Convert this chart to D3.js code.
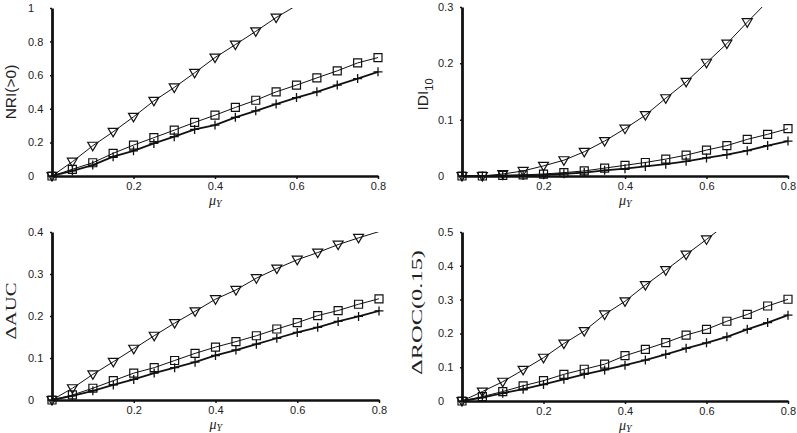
<!DOCTYPE html>
<html>
<head>
<meta charset="utf-8">
<script src="https://cdn.jsdelivr.net/npm/d3@7"></script>
<style>
  html, body { margin: 0; padding: 0; background: #fff; }
  svg { display: block; }
</style>
</head>
<body>
<svg id="chart" width="797" height="433"></svg>
<script>
// ---- Data ----
const muY = [0, 0.05, 0.10, 0.15, 0.20, 0.25, 0.30, 0.35, 0.40, 0.45, 0.50, 0.55, 0.60, 0.65, 0.70, 0.75, 0.80];

// NRI(>0)
const nriTri  = [0, 0.085, 0.180, 0.263, 0.352, 0.447, 0.527, 0.614, 0.705, 0.782, 0.861, 0.943, 1.015];
const nriSq   = [0, 0.040, 0.079, 0.135, 0.184, 0.228, 0.273, 0.319, 0.362, 0.408, 0.451, 0.501, 0.541, 0.584, 0.626, 0.673, 0.705];
const nriPlus = [0, 0.030, 0.065, 0.115, 0.150, 0.194, 0.234, 0.277, 0.303, 0.349, 0.388, 0.428, 0.467, 0.501, 0.541, 0.580, 0.620];

// IDI_10
const idiTri  = [0, 0, 0.0035, 0.009, 0.018, 0.028, 0.043, 0.062, 0.084, 0.108, 0.138, 0.167, 0.201, 0.235, 0.273, 0.310];
const idiSq   = [0, 0, 0.001, 0.002, 0.0035, 0.006, 0.009, 0.014, 0.019, 0.024, 0.030, 0.037, 0.046, 0.054, 0.065, 0.074, 0.084];
const idiPlus = [0, 0, 0.0005, 0.001, 0.002, 0.004, 0.006, 0.010, 0.013, 0.017, 0.021, 0.026, 0.032, 0.038, 0.045, 0.054, 0.062];

// Delta AUC
const aucTri  = [0, 0.028, 0.061, 0.091, 0.122, 0.153, 0.183, 0.211, 0.240, 0.262, 0.290, 0.313, 0.334, 0.351, 0.370, 0.386, 0.401];
const aucSq   = [0, 0.012, 0.028, 0.046, 0.064, 0.077, 0.094, 0.111, 0.126, 0.139, 0.153, 0.169, 0.184, 0.201, 0.213, 0.228, 0.241];
const aucPlus = [0, 0.010, 0.022, 0.036, 0.049, 0.064, 0.077, 0.090, 0.106, 0.119, 0.133, 0.147, 0.161, 0.173, 0.187, 0.199, 0.212];

// Delta ROC(0.15)
const rocTri  = [0, 0.028, 0.057, 0.092, 0.128, 0.170, 0.207, 0.256, 0.295, 0.343, 0.387, 0.433, 0.478, 0.525];
const rocSq   = [0, 0.013, 0.028, 0.045, 0.060, 0.079, 0.094, 0.109, 0.134, 0.153, 0.173, 0.195, 0.212, 0.236, 0.256, 0.281, 0.301];
const rocPlus = [0, 0.010, 0.023, 0.035, 0.049, 0.064, 0.079, 0.092, 0.106, 0.121, 0.138, 0.156, 0.172, 0.190, 0.212, 0.232, 0.254];

// Tick labels
const xTicks = [0.2, 0.4, 0.6, 0.8];
const nriTicks = [0, 0.2, 0.4, 0.6, 0.8, 1];
const idiTicks = [0, 0.1, 0.2, 0.3];
const aucTicks = [0, 0.1, 0.2, 0.3, 0.4];
const rocTicks = [0, 0.1, 0.2, 0.3, 0.4, 0.5];

// ---- Layout ----
const panels = [
  { id: "p1", x0: 52,  x1: 378, y0: 176, y1: 8,   yMax: 1,   ticks: nriTicks, tri: nriTri, sq: nriSq, plus: nriPlus, label: "nri" },
  { id: "p2", x0: 462, x1: 788, y0: 176, y1: 7,   yMax: 0.3, ticks: idiTicks, tri: idiTri, sq: idiSq, plus: idiPlus, label: "idi" },
  { id: "p3", x0: 52,  x1: 379, y0: 400, y1: 232, yMax: 0.4, ticks: aucTicks, tri: aucTri, sq: aucSq, plus: aucPlus, label: "auc" },
  { id: "p4", x0: 462, x1: 788, y0: 401, y1: 232, yMax: 0.5, ticks: rocTicks, tri: rocTri, sq: rocSq, plus: rocPlus, label: "roc" }
];

const ink = "#111";
const svg = d3.select("#chart");
const defs = svg.append("defs");

const triPath = "M-5,-3.5L5,-3.5L0,5Z";
const sqPath = "M-4,-4H4V4H-4Z";
const plusPath = "M-4.5,0H4.5M0,-4.5V4.5";

panels.forEach(p => {
  const x = d3.scaleLinear().domain([0, 0.8]).range([p.x0, p.x1]);
  const y = d3.scaleLinear().domain([0, p.yMax]).range([p.y0, p.y1]);
  const g = svg.append("g");

  defs.append("clipPath").attr("id", "clip-" + p.id)
    .append("rect")
    .attr("x", p.x0 - 10).attr("y", p.y1)
    .attr("width", p.x1 - p.x0 + 20).attr("height", p.y0 - p.y1 + 10);

  // X axis
  const xa = g.append("g").attr("transform", `translate(0,${p.y0})`)
    .call(d3.axisBottom(x).tickValues(xTicks).tickSize(3).tickSizeOuter(0).tickFormat(d3.format(".1f")));
  xa.select(".domain").attr("stroke", ink).attr("stroke-width", 2.5);
  xa.selectAll(".tick line").attr("stroke", ink).attr("stroke-width", 1.5);
  xa.selectAll(".tick text").attr("fill", "#222").attr("font-family", "Liberation Sans, Arial, sans-serif")
    .attr("font-size", 11).attr("y", 6);

  // Y axis
  const ya = g.append("g").attr("transform", `translate(${p.x0},0)`)
    .call(d3.axisLeft(y).tickValues(p.ticks).tickSize(2).tickSizeOuter(0)
      .tickFormat(d => (d === 0 ? "0" : d === 1 ? "1" : d3.format(".1f")(d))));
  ya.select(".domain").attr("stroke", ink).attr("stroke-width", 2.8);
  ya.selectAll(".tick line").attr("stroke", ink).attr("stroke-width", 1.5);
  ya.selectAll(".tick text").attr("fill", "#222").attr("font-family", "Liberation Sans, Arial, sans-serif")
    .attr("font-size", 11).attr("text-anchor", "start").attr("x", -24);

  // Lines
  const line = d3.line().x((d, i) => x(muY[i])).y(d => y(d));
  const lg = g.append("g").attr("clip-path", `url(#clip-${p.id})`);
  lg.append("path").datum(p.plus).attr("d", line).attr("fill", "none").attr("stroke", ink).attr("stroke-width", 1.8);
  lg.append("path").datum(p.sq).attr("d", line).attr("fill", "none").attr("stroke", ink).attr("stroke-width", 1);
  lg.append("path").datum(p.tri).attr("d", line).attr("fill", "none").attr("stroke", ink).attr("stroke-width", 1);

  // Markers
  const mk = (arr, path, sw) => {
    g.append("g").selectAll("path")
      .data(arr.map((v, i) => ({ x: muY[i], v })).filter(d => d.v < p.yMax))
      .join("path")
      .attr("transform", d => `translate(${x(d.x)},${y(d.v)})`)
      .attr("d", path).attr("fill", "none").attr("stroke", ink).attr("stroke-width", sw);
  };
  mk(p.plus, plusPath, 1.3);
  mk(p.sq, sqPath, 1.2);
  mk(p.tri, triPath, 1.2);

  // X label mu_Y
  const xl = g.append("text")
    .attr("x", x(0.4) - 6).attr("y", p.y0 + 28.5)
    .attr("font-family", "Liberation Serif, Times New Roman, serif").attr("font-style", "italic")
    .attr("font-size", 14).attr("fill", "#222");
  xl.append("tspan").text("μ");
  xl.append("tspan").attr("font-size", 10).attr("dy", 2.5).text("Y");

  // Y labels
  const cy = (p.y0 + p.y1) / 2;
  const lx = p.x0 - 36;
  if (p.label === "nri") {
    g.append("text").attr("transform", `translate(${lx},${cy}) rotate(-90)`)
      .attr("text-anchor", "middle").attr("font-family", "Liberation Sans, Arial, sans-serif")
      .attr("font-size", 15.5).attr("fill", "#222").text("NRI(>0)");
  } else if (p.label === "idi") {
    const t = g.append("text").attr("transform", `translate(${lx + 2},${cy + 3}) rotate(-90)`)
      .attr("text-anchor", "middle").attr("font-family", "Liberation Sans, Arial, sans-serif")
      .attr("font-size", 15.5).attr("fill", "#222");
    t.append("tspan").text("IDI");
    t.append("tspan").attr("font-size", 11).attr("dy", 5).text("10");
  } else if (p.label === "auc") {
    g.append("text").attr("transform", `translate(${lx},${cy - 5}) rotate(-90)`)
      .attr("text-anchor", "middle").attr("font-family", "Liberation Serif, Times New Roman, serif")
      .attr("font-size", 15).attr("fill", "#222")
      .attr("textLength", 57).attr("lengthAdjust", "spacingAndGlyphs").text("ΔAUC");
  } else {
    g.append("text").attr("transform", `translate(${lx - 4},${cy - 4}) rotate(-90)`)
      .attr("text-anchor", "middle").attr("font-family", "Liberation Serif, Times New Roman, serif")
      .attr("font-size", 15).attr("fill", "#222")
      .attr("textLength", 125).attr("lengthAdjust", "spacingAndGlyphs").text("ΔROC(0.15)");
  }
});
</script>
</body>
</html>
